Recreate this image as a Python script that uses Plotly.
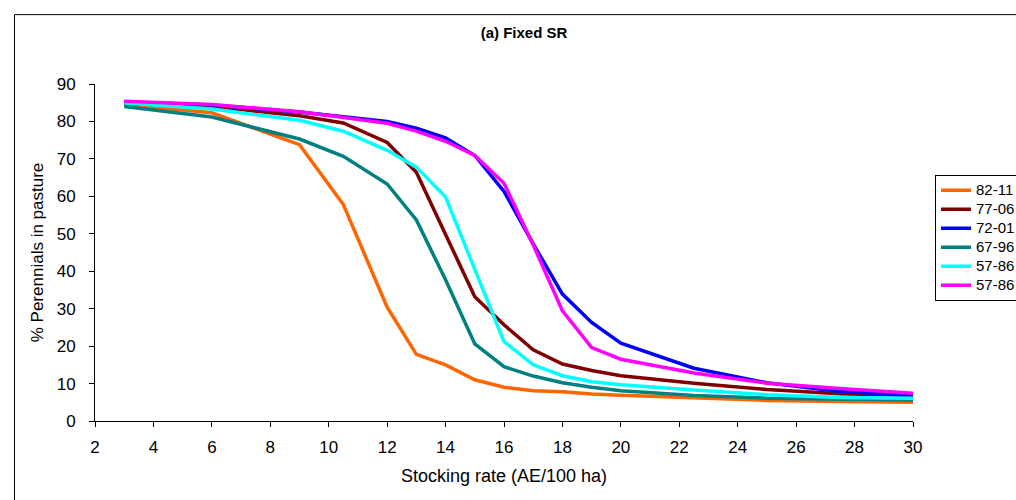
import plotly.graph_objects as go

x_vals = [3, 6, 9, 10.5, 12, 13, 14, 15, 16, 17, 18, 19, 20, 22.5, 25, 27.5, 30]

s_82_11 = [84.5, 82.3, 73.8, 57.8, 30.4, 17.8, 15.0, 11.0, 9.0, 8.1, 7.8, 7.2, 6.9, 6.1, 5.5, 5.2, 5.0]
s_77_06 = [84.8, 84.0, 81.5, 79.6, 74.4, 66.4, 49.8, 33.2, 25.7, 19.0, 15.2, 13.5, 12.1, 10.1, 8.4, 7.3, 6.8]
s_72_01 = [85.2, 84.4, 82.5, 81.2, 80.0, 78.2, 75.6, 70.9, 61.3, 47.3, 33.9, 26.3, 20.8, 14.1, 10.2, 7.9, 6.8]
s_67_96 = [84.0, 81.2, 75.3, 70.7, 63.3, 53.7, 37.7, 20.6, 14.5, 12.0, 10.2, 9.0, 8.1, 6.8, 6.1, 5.8, 5.6]
s_57_86a = [84.9, 83.3, 80.3, 77.4, 72.3, 67.8, 59.8, 40.5, 21.2, 15.0, 12.1, 10.5, 9.7, 8.3, 7.0, 6.3, 6.1]
s_57_86b = [85.4, 84.5, 82.6, 81.0, 79.5, 77.4, 74.7, 70.9, 63.5, 47.0, 29.4, 19.6, 16.5, 12.8, 10.1, 8.7, 7.4]

names = ["82-11", "77-06", "72-01", "67-96", "57-86", "57-86"]
series = [s_82_11, s_77_06, s_72_01, s_67_96, s_57_86a, s_57_86b]
colors = ["#FF6600", "#800000", "#0000FF", "#008080", "#00FFFF", "#FF00FF"]

FAM = "Liberation Sans, Arial, sans-serif"

fig = go.Figure()
for n, s, c in zip(names, series, colors):
    fig.add_trace(go.Scatter(x=x_vals, y=s, name='<span style="font-size:15px">' + n + '</span>',
                             mode="lines", line=dict(color=c, width=3.5)))

L, R, T, B = 95, 913, 84.3, 421
W, H = 1016, 500
pw, ph = R - L, B - T

def px(p):
    return (p - L) / pw

def py(p):
    return (B - p) / ph

fig.update_layout(
    width=W, height=H,
    margin=dict(l=L, r=W - R, t=T, b=H - B, autoexpand=False),
    paper_bgcolor="white", plot_bgcolor="white",
    font=dict(family=FAM, size=15, color="black"),
    title=dict(text="<b>(a) Fixed SR</b>", x=px(524), xref="paper", xanchor="center",
               y=1 - 33 / H, yanchor="middle", font=dict(family=FAM, size=15, color="black")),
    showlegend=True,
    legend=dict(x=px(935), y=py(175), xanchor="left", yanchor="top",
                bordercolor="black", borderwidth=1, bgcolor="white",
                font=dict(family=FAM, size=11, color="black"), itemwidth=30, tracegroupgap=0),
    shapes=[dict(type="rect", xref="paper", yref="paper",
                 x0=px(14.5), x1=px(1030), y0=py(515), y1=py(15),
                 line=dict(color="black", width=1), layer="below")],
)
fig.update_xaxes(range=[2, 30], tickmode="array", tickvals=list(range(2, 31, 2)),
                 showline=True, linecolor="black", linewidth=1, ticks="outside",
                 ticklen=5, tickcolor="black", showgrid=False, zeroline=False,
                 tickfont=dict(family=FAM, size=17, color="black"), ticklabelstandoff=6,
                 title=dict(text="Stocking rate (AE/100 ha)", standoff=12,
                            font=dict(family=FAM, size=18, color="black")))
fig.update_yaxes(range=[0, 90], tickmode="array", tickvals=list(range(0, 91, 10)),
                 showline=True, linecolor="black", linewidth=1, ticks="outside",
                 ticklen=5, tickcolor="black", showgrid=False, zeroline=False,
                 tickfont=dict(family=FAM, size=17, color="black"), ticklabelstandoff=10,
                 title=dict(text="% Perennials in pasture", standoff=8,
                            font=dict(family=FAM, size=17, color="black")))

fig.write_html("out.html")
